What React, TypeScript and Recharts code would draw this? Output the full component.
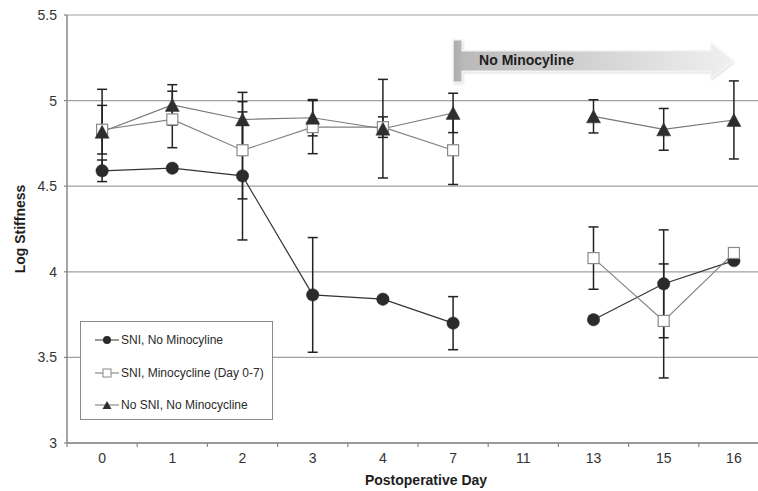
import React from 'react';
import {
  ComposedChart,
  Line,
  XAxis,
  YAxis,
  CartesianGrid,
  ErrorBar,
  Legend,
  ReferenceArea,
  Label,
} from 'recharts';

const days = ['0', '1', '2', '3', '4', '7', '11', '13', '15', '16'];
const sniNoMino = [4.59, 4.605, 4.56, 3.865, 3.84, 3.7, null, 3.72, 3.93, 4.065];
const sniNoMinoErr = [0.063, null, 0.374, 0.335, null, 0.155, null, null, 0.315, null];
const sniMino = [4.83, 4.89, 4.71, 4.845, 4.845, 4.71, null, 4.08, 3.713, 4.11];
const sniMinoErr = [0.142, 0.165, 0.284, 0.155, 0.06, 0.2, null, 0.182, 0.333, null];
const noSni = [4.818, 4.975, 4.89, 4.9, 4.836, 4.928, null, 4.908, 4.832, 4.887];
const noSniErr = [0.248, 0.118, 0.158, 0.106, 0.288, 0.115, null, 0.097, 0.122, 0.228];
const yTicks = [3, 3.5, 4, 4.5, 5, 5.5];
const seriesNames = ['SNI, No Minocyline', 'SNI, Minocycline (Day 0-7)', 'No SNI, No Minocycline'];
const arrowText = 'No Minocyline';
const xTitle = 'Postoperative Day';
const yTitle = 'Log Stiffness';

const data = days.map((d, i) => ({
  day: d,
  sni: sniNoMino[i],
  sniErr: sniNoMinoErr[i],
  mino: sniMino[i],
  minoErr: sniMinoErr[i],
  ctrl: noSni[i],
  ctrlErr: noSniErr[i],
}));

const FONT = '"Liberation Sans", Arial, sans-serif';

const CircleDot = (p: any) => {
  if (p.cx == null || p.cy == null || p.value == null) return <g key={p.index} />;
  return <circle key={p.index} cx={p.cx} cy={p.cy} r={6.2} fill="#2b2b2b" stroke="#2b2b2b" strokeWidth={0.5} />;
};
const SquareDot = (p: any) => {
  if (p.cx == null || p.cy == null || p.value == null) return <g key={p.index} />;
  return (
    <rect key={p.index} x={p.cx - 5.5} y={p.cy - 5.5} width={11} height={11} fill="#ffffff" stroke="#8a8a8a" strokeWidth={1.2} />
  );
};
const TriangleDot = (p: any) => {
  if (p.cx == null || p.cy == null || p.value == null) return <g key={p.index} />;
  const { cx, cy } = p;
  return (
    <polygon
      key={p.index}
      points={`${cx},${cy - 6.5} ${cx + 7},${cy + 6.5} ${cx - 7},${cy + 6.5}`}
      fill="#2e2e2e"
      stroke="#2e2e2e"
      strokeWidth={0.5}
    />
  );
};

const XTick = (props: any) => {
  const { x, y, payload } = props;
  const off = payload && typeof payload.offset === 'number' ? payload.offset : 0;
  return (
    <g>
      <line x1={x - off} x2={x - off} y1={y} y2={y + 4} stroke="#888" strokeWidth={1.2} />
      <text x={x} y={y + 20} textAnchor="middle" fontSize={14} fill="#333" fontFamily={FONT}>
        {payload.value}
      </text>
    </g>
  );
};

const ArrowShape = (props: any) => {
  const { x, y, width, height } = props;
  if (x == null || y == null) return null;
  const band = width / 5;
  const x0 = x + band / 2;
  const x1 = x + width - band / 2 - 1;
  const hs = x1 - 22;
  const h = height;
  const d = `M ${x0} ${y - 11} H ${x0 + 9} V ${y} H ${hs} V ${y - 8} L ${x1} ${y + h / 2} L ${hs} ${y + h + 7} V ${y + h} H ${x0 + 9} V ${y + h + 11} H ${x0} Z`;
  return (
    <g>
      <defs>
        <linearGradient id="arrowGrad" x1="0" y1="0" x2="1" y2="0">
          <stop offset="0%" stopColor="#acacac" />
          <stop offset="4%" stopColor="#bababa" />
          <stop offset="40%" stopColor="#cdcdcd" />
          <stop offset="100%" stopColor="#f0f0f0" />
        </linearGradient>
        <filter id="arrowShadow" x="-5%" y="-30%" width="110%" height="160%">
          <feDropShadow dx="1" dy="1.5" stdDeviation="1.2" floodColor="#000" floodOpacity="0.12" />
        </filter>
      </defs>
      <path d={d} fill="url(#arrowGrad)" stroke="#f4f4f4" strokeWidth={1.2} filter="url(#arrowShadow)" />
      <text x={x0 + 26} y={y + 14.5} fontSize={14} fontWeight="bold" fill="#1e1e1e" fontFamily={FONT}>
        {arrowText}
      </text>
    </g>
  );
};

const LegendIcon = ({ kind }: { kind: number }) => (
  <svg width={24} height={12} style={{ display: 'block' }}>
    <line x1={0} x2={24} y1={6} y2={6} stroke={kind === 0 ? '#333' : '#777'} strokeWidth={1} />
    {kind === 0 && <circle cx={12} cy={6} r={4} fill="#2b2b2b" />}
    {kind === 1 && <rect x={8} y={2} width={8} height={8} fill="#fff" stroke="#888" strokeWidth={1} />}
    {kind === 2 && <polygon points="12,2 16.5,10 7.5,10" fill="#2e2e2e" />}
  </svg>
);

const LegendBox = () => (
  <div
    style={{
      boxSizing: 'border-box',
      width: 193,
      height: 99,
      border: '1px solid #8a8a8a',
      background: '#fff',
      paddingTop: 2,
      fontFamily: FONT,
      fontSize: 12,
      color: '#2a2a2a',
    }}
  >
    {seriesNames.map((n, i) => (
      <div key={n} style={{ height: 32.5, display: 'flex', alignItems: 'center', paddingLeft: 14 }}>
        <LegendIcon kind={i} />
        <span style={{ marginLeft: 2, whiteSpace: 'nowrap' }}>{n}</span>
      </div>
    ))}
  </div>
);

export default function App() {
  return (
    <div style={{ position: 'absolute', left: 0, top: 0, width: 758, height: 491, overflow: 'hidden', background: '#fff' }}>
      <ComposedChart
        width={770}
        height={491}
        data={data}
        margin={{ top: 15, right: 1, bottom: 0, left: 0 }}
        style={{ fontFamily: FONT }}
      >
        <CartesianGrid vertical={false} stroke="#a0a0a0" strokeWidth={1.2} />
        <XAxis
          dataKey="day"
          type="category"
          scale="band"
          height={48}
          tickLine={false}
          tickSize={0}
          tickMargin={0}
          axisLine={{ stroke: '#888', strokeWidth: 1.5 }}
          tick={<XTick />}
          interval={0}
        >
          <Label
            content={(p: any) => {
              const vb = p.viewBox || {};
              return (
                <text
                  x={vb.x + vb.width / 2 + 8}
                  y={vb.y + vb.height - 6}
                  textAnchor="middle"
                  fontSize={14}
                  fontWeight="bold"
                  fill="#1e1e1e"
                  fontFamily={FONT}
                >
                  {xTitle}
                </text>
              );
            }}
          />
        </XAxis>
        <YAxis
          width={67}
          domain={[3, 5.5]}
          ticks={yTicks}
          type="number"
          allowDataOverflow
          tickSize={3}
          tickMargin={7}
          tickLine={{ stroke: '#888', strokeWidth: 1.2 }}
          axisLine={{ stroke: '#888', strokeWidth: 1.5 }}
          tick={{ fontSize: 14, fill: '#333' }}
        >
          <Label
            content={(p: any) => {
              const vb = p.viewBox || {};
              const cy = vb.y + vb.height / 2;
              return (
                <text
                  x={20}
                  y={cy}
                  transform={`rotate(-90 20 ${cy})`}
                  textAnchor="middle"
                  dominantBaseline="central"
                  fontSize={14}
                  fontWeight="bold"
                  fill="#1e1e1e"
                  fontFamily={FONT}
                >
                  {yTitle}
                </text>
              );
            }}
          />
        </YAxis>
        <ReferenceArea x1="7" x2="16" y1={5.29} y2={5.173} shape={<ArrowShape />} ifOverflow="visible" />
        <Line
          dataKey="sni"
          name={seriesNames[0]}
          stroke="#333"
          strokeWidth={1.2}
          dot={CircleDot}
          activeDot={false}
          isAnimationActive={false}
          connectNulls={false}
        >
          <ErrorBar dataKey="sniErr" width={5} stroke="#222" strokeWidth={1.5} />
        </Line>
        <Line
          dataKey="mino"
          name={seriesNames[1]}
          stroke="#808080"
          strokeWidth={1.1}
          dot={SquareDot}
          activeDot={false}
          isAnimationActive={false}
          connectNulls={false}
        >
          <ErrorBar dataKey="minoErr" width={5} stroke="#222" strokeWidth={1.5} />
        </Line>
        <Line
          dataKey="ctrl"
          name={seriesNames[2]}
          stroke="#777"
          strokeWidth={1.1}
          dot={TriangleDot}
          activeDot={false}
          isAnimationActive={false}
          connectNulls={false}
        >
          <ErrorBar dataKey="ctrlErr" width={5} stroke="#222" strokeWidth={1.5} />
        </Line>
        <Legend
          layout="vertical"
          align="center"
          verticalAlign="middle"
          wrapperStyle={{ left: 80, top: 321, width: 193, height: 99 }}
          content={() => <LegendBox />}
        />
      </ComposedChart>
    </div>
  );
}
